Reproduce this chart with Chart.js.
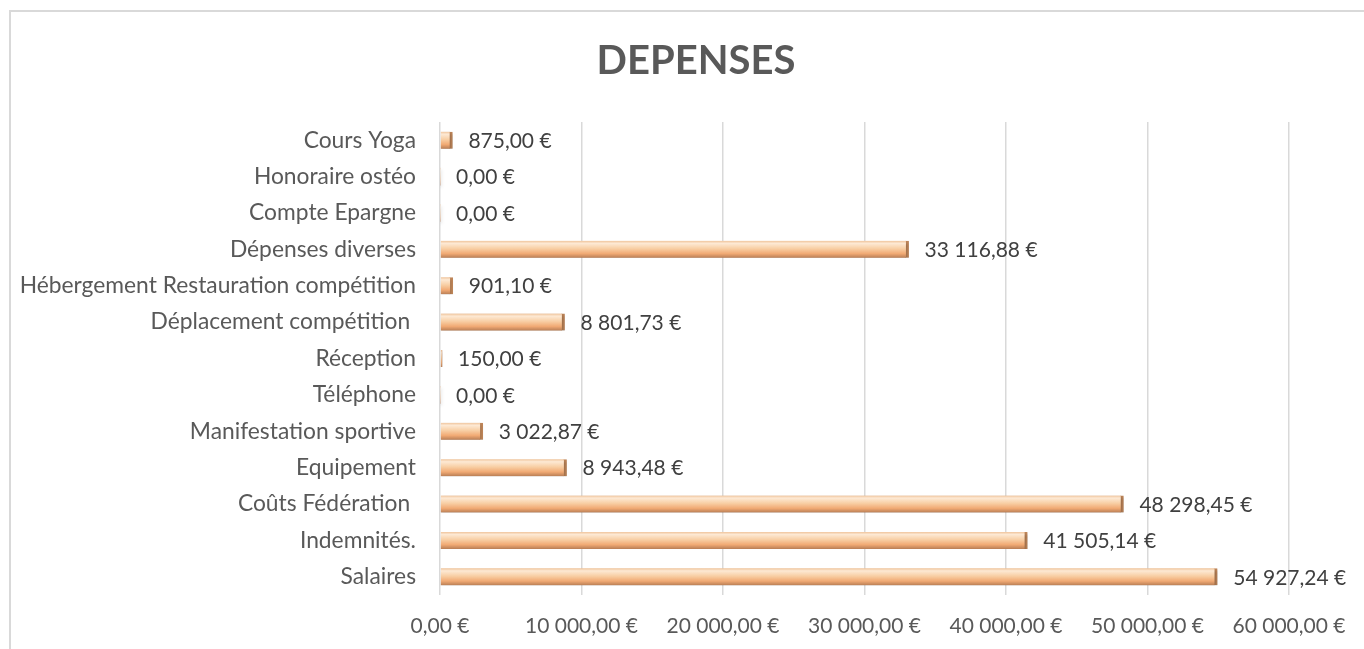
<!DOCTYPE html>
<html>
<head>
<meta charset="utf-8">
<script src="https://cdn.jsdelivr.net/npm/chart.js@4/dist/chart.umd.min.js"></script>
<style>
  html, body { margin: 0; padding: 0; background: #fff; overflow: hidden; }
  #cadre { position: absolute; left: 9px; top: 10px; width: 1380px; height: 660px;
           border-left: 2px solid #d9d9d9; border-top: 2px solid #d9d9d9; box-sizing: border-box; }
  #boite { position: absolute; left: 9px; top: 0; width: 1374px; height: 649px; }
</style>
</head>
<body>
<div id="cadre"></div>
<div id="boite"><canvas id="graficoDepenses"></canvas></div>
<script>
// données du graphique
const categories = ['Cours Yoga', 'Honoraire ostéo', 'Compte Epargne', 'Dépenses diverses',
  'Hébergement Restauration compétition', 'Déplacement compétition ', 'Réception', 'Téléphone',
  'Manifestation sportive', 'Equipement', 'Coûts Fédération ', 'Indemnités.', 'Salaires'];
const montants = [875.00, 0, 0, 33116.88, 901.10, 8801.73, 150.00, 0, 3022.87, 8943.48, 48298.45, 41505.14, 54927.24];
const ticksX = [0, 10000, 20000, 30000, 40000, 50000, 60000];

function formatarEuro(v) {
    const partes = Number(v).toFixed(2).split('.');
    partes[0] = partes[0].replace(/\B(?=(\d{3})+(?!\d))/g, ' ');
    return partes[0] + ',' + partes[1] + ' €';
}

// dégradé vertical sur chaque barre + ombre + étiquettes
const pluginBarras = {
    id: 'barras',
    beforeDatasetsDraw(chart) {
        const ctx = chart.ctx;
        chart.getDatasetMeta(0).data.forEach(bar => {
            const h = bar.height;
            const g = ctx.createLinearGradient(0, bar.y - h / 2, 0, bar.y + h / 2);
            g.addColorStop(0, '#efc39a');
            g.addColorStop(0.15, '#fde9d4');
            g.addColorStop(0.45, '#f8cfa5');
            g.addColorStop(0.75, '#f1aa74');
            g.addColorStop(1, '#b97e55');
            bar.options.backgroundColor = g;
        });
        ctx.save();
        ctx.shadowColor = 'rgba(0,0,0,0.25)';
        ctx.shadowBlur = 3;
        ctx.shadowOffsetY = 2;
        ctx.shadowOffsetX = 1;
    },
    afterDatasetsDraw(chart) {
        const ctx = chart.ctx;
        ctx.restore();
        ctx.save();
        ctx.font = '21px Lato';
        ctx.fillStyle = '#404040';
        ctx.textBaseline = 'middle';
        ctx.textAlign = 'left';
        chart.getDatasetMeta(0).data.forEach((bar, i) => {
            ctx.fillText(formatarEuro(montants[i]), bar.x + 16, bar.y + 1);
        });
        ctx.restore();
    }
};

const ctx = document.getElementById('graficoDepenses').getContext('2d');
new Chart(ctx, {
    type: 'bar',
    data: {
        labels: categories,
        datasets: [{
            data: montants,
            backgroundColor: c => '#f4b183',
            borderColor: '#c08659',
            borderWidth: c => c.raw > 0 ? { top: 0, bottom: 0, left: 0, right: 3 } : 0,
            borderSkipped: false,
            barThickness: 17
        }]
    },
    options: {
        indexAxis: 'y',
        responsive: true,
        maintainAspectRatio: false,
        animation: false,
        layout: { padding: 0 },
        plugins: {
            legend: { display: false },
            tooltip: { enabled: false },
            title: {
                display: true,
                text: 'DEPENSES',
                color: '#595959',
                font: { family: 'Lato', size: 40, weight: 'bold' },
                padding: { top: 37, bottom: 37 }
            }
        },
        scales: {
            x: {
                min: 0, max: 60000,
                afterBuildTicks: axis => { axis.ticks = ticksX.map(v => ({ value: v })); },
                afterFit: axis => { axis.height = 54; axis.paddingRight = 94; },
                ticks: { callback: v => formatarEuro(v), color: '#595959', font: { family: 'Lato', size: 21 }, padding: 19, maxRotation: 0 },
                grid: { color: '#d9d9d9', lineWidth: 1.5, drawTicks: false },
                border: { display: false }
            },
            y: {
                afterFit: axis => { axis.width = 431; },
                ticks: { color: '#595959', font: { family: 'Lato', size: 22.8 }, padding: 24 },
                grid: { display: false, drawTicks: false },
                border: { display: false }
            }
        }
    },
    plugins: [pluginBarras]
});
</script>
</body>
</html>
